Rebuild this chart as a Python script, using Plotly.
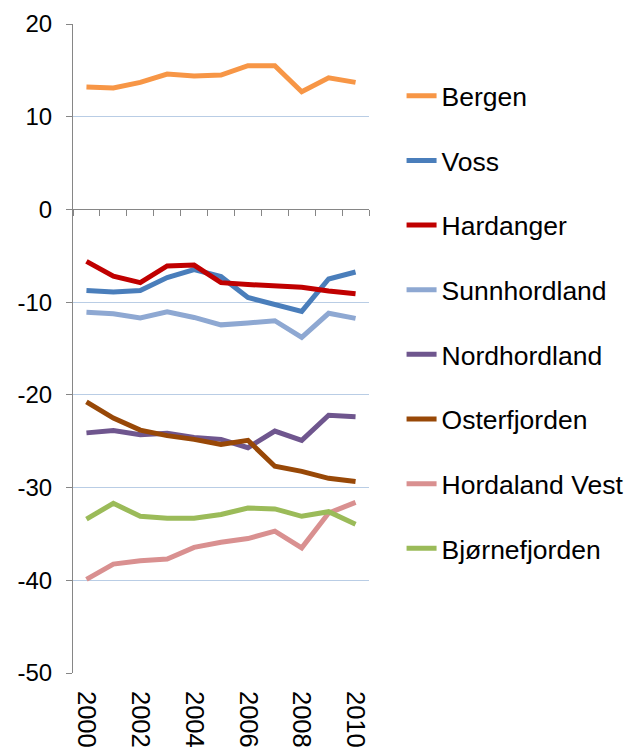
import plotly.graph_objects as go

years = list(range(2000, 2011))

bergen = [13.2, 13.1, 13.7, 14.6, 14.4, 14.5, 15.5, 15.5, 12.7, 14.2, 13.7]
voss = [-8.75, -8.9, -8.75, -7.35, -6.5, -7.25, -9.5, -10.2, -11.0, -7.5, -6.75]
hardanger = [-5.6, -7.2, -7.9, -6.1, -6.0, -7.9, -8.1, -8.3, -8.4, -8.8, -9.1]
sunnhordland = [-11.1, -11.25, -11.7, -11.05, -11.65, -12.45, -12.25, -12.0, -13.8, -11.2, -11.75]
nordhordland = [-24.1, -23.85, -24.3, -24.15, -24.6, -24.8, -25.7, -23.9, -24.9, -22.2, -22.35]
osterfjorden = [-20.75, -22.5, -23.8, -24.4, -24.8, -25.35, -24.9, -27.7, -28.25, -29.0, -29.35]
hordaland_vest = [-39.9, -38.25, -37.9, -37.7, -36.45, -35.9, -35.5, -34.7, -36.5, -32.75, -31.6]
bjornefjorden = [-33.4, -31.7, -33.1, -33.3, -33.3, -32.9, -32.2, -32.3, -33.1, -32.6, -33.95]

series = [
    ("Bergen", bergen, "#F79646"),
    ("Voss", voss, "#4A7EBB"),
    ("Hardanger", hardanger, "#C00000"),
    ("Sunnhordland", sunnhordland, "#8EA8D2"),
    ("Nordhordland", nordhordland, "#6F568E"),
    ("Osterfjorden", osterfjorden, "#984807"),
    ("Hordaland Vest", hordaland_vest, "#D99090"),
    ("Bjørnefjorden", bjornefjorden, "#9BBB59"),
]

year_labels = ["2000", "2002", "2004", "2006", "2008", "2010"]
year_ticks = [2000, 2002, 2004, 2006, 2008, 2010]
y_ticks = [20, 10, 0, -10, -20, -30, -40, -50]
y_labels = ["20", "10", "0", "-10", "-20", "-30", "-40", "-50"]

fig = go.Figure()
for i, (name, vals, col) in enumerate(series):
    fig.add_trace(go.Scatter(
        x=years, y=vals, name=name, mode="lines",
        line=dict(color=col, width=5),
        legendgroup=name,
        xaxis="x2" if i == 0 else "x",
    ))

FONT = "Arial, Liberation Sans, sans-serif"
fig.update_layout(
    width=633, height=747,
    margin=dict(l=65, r=266, t=16, b=82),
    paper_bgcolor="white", plot_bgcolor="white",
    font=dict(family=FONT, size=24, color="black"),
    showlegend=True,
    legend=dict(
        x=1.11, xanchor="left", y=0.926, yanchor="top",
        font=dict(family=FONT, size=26.5, color="black"),
        tracegroupgap=27.2,
        bgcolor="rgba(0,0,0,0)",
    ),
    xaxis=dict(
        range=[1999.5, 2010.5], tickvals=year_ticks, ticktext=year_labels,
        tickangle=90, showgrid=False, zeroline=False, showline=False,
        ticks="", automargin=False, tickfont=dict(size=25.5),
        ticklabelstandoff=17,
    ),
    xaxis2=dict(
        range=[1999.5, 2010.5], overlaying="x", anchor="free",
        position=50 / 70, side="bottom",
        tick0=1999.5, dtick=1, ticks="outside", ticklen=6, tickwidth=1,
        tickcolor="#868686", showline=True, linecolor="#868686", linewidth=1,
        showticklabels=False, showgrid=False, zeroline=False,
    ),
    yaxis=dict(
        range=[-50, 20], tickvals=y_ticks, ticktext=y_labels,
        showgrid=True, gridcolor="#B9CDE5", gridwidth=1,
        zeroline=False, showline=True, linecolor="#868686", linewidth=1,
        ticks="outside", ticklen=6, tickcolor="#868686",
        automargin=False, tickfont=dict(size=24), ticklabelstandoff=9,
    ),
)

fig.write_html("out.html")
